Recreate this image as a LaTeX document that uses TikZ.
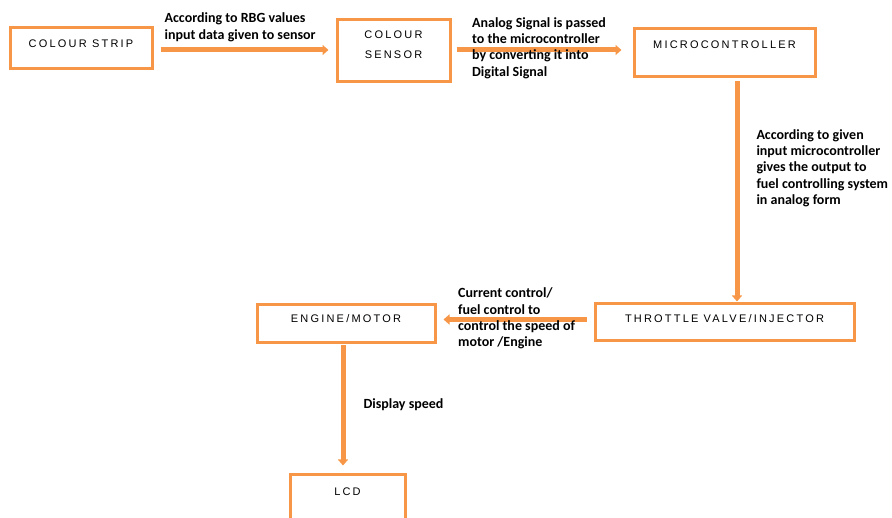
\documentclass[tikz,border=0pt]{standalone}
\usepackage{fontspec}
\usepackage{tikz}
\usetikzlibrary{arrows.meta}
\usetikzlibrary{positioning}
\newfontfamily\boxfont[LetterSpace=20]{Liberation Sans}
\newfontfamily\notefont{Carlito}
\definecolor{flowor}{HTML}{F79646}
\tikzset{
    blockbox/.style = {rectangle, draw=flowor, line width=3pt, inner sep=0pt},
    blocktxt/.style = {anchor=north, inner sep=0pt, align=center, font=\boxfont\fontsize{11}{20}\selectfont},
    note/.style = {align=left, inner sep=0pt, font=\notefont\bfseries\fontsize{14}{16.3}\selectfont}
}
\begin{document}
\begin{tikzpicture}[x=1pt, y=-1pt]
\tikzset{
    flow/.style = {-{Triangle[width=10pt,length=6pt]}, draw=flowor, line width=5pt}
}
\clip (0,0) rectangle (892,518);
\node[blockbox, minimum width=142, minimum height=41,
      label={[blocktxt, yshift=-13]north:COLOUR STRIP}] at (81,48.5) (strip) {};
\node[blockbox, minimum width=113, minimum height=62,
      label={[blocktxt, yshift=-12]north:COLOUR\\SENSOR}] at (393.5,51) (sensor) {};
\node[blockbox, minimum width=181, minimum height=48,
      label={[blocktxt, yshift=-13]north:MICROCONTROLLER}] at (724.5,53) (micro) {};
\node[blockbox, minimum width=259, minimum height=37,
      label={[blocktxt, yshift=-12]north:THROTTLE VALVE/INJECTOR}] at (724.5,322.5) (throttle) {};
\node[blockbox, minimum width=178, minimum height=38,
      label={[blocktxt, yshift=-11]north:ENGINE/MOTOR}] at (346,324) (engine) {};
\node[blockbox, minimum width=115, minimum height=65,
      label={[blocktxt, yshift=-14]north:LCD}] at (347.5,507.5) (lcd) {};
%
\draw[flow, shorten <=7pt, shorten >=7pt] ([yshift=-1.5]strip.east) -- ([yshift=-1.5]strip.east -| sensor.west)
    node[note, pos=0.02, anchor=south west, xshift=5, yshift=6] {According to RBG values\\input data given to sensor};
\draw[flow, shorten <=5pt, shorten >=11pt] ([yshift=1]sensor.east) -- ([yshift=1]sensor.east -| micro.west)
    node[note, pos=0.1, anchor=west, yshift=2] {Analog Signal is passed\\to the microcontroller\\by converting it into\\Digital Signal};
%
\draw[flow, shorten <=3pt, shorten >=1pt] ([xshift=12.5]micro.south) -- ([xshift=12.5]micro.south |- throttle.north)
    node[note, pos=0.4, anchor=west, xshift=17] {According to given\\input microcontroller\\gives the output to\\fuel controlling system\\in analog form};
\draw[flow, shorten <=7pt, shorten >=7pt] ([yshift=3]throttle.west) -- ([yshift=3]throttle.west -| engine.east)
    node[note, pos=0.91, anchor=west, xshift=5, yshift=1] {Current control/\\fuel control to\\control the speed of\\motor /Engine};
%
\draw[flow, shorten <=1pt, shorten >=8pt] ([xshift=-3]engine.south) -- ([xshift=-3]engine.south |- lcd.north)
    node[note, pos=0.47, anchor=west, xshift=18] {Display speed};
\end{tikzpicture}
\end{document}
